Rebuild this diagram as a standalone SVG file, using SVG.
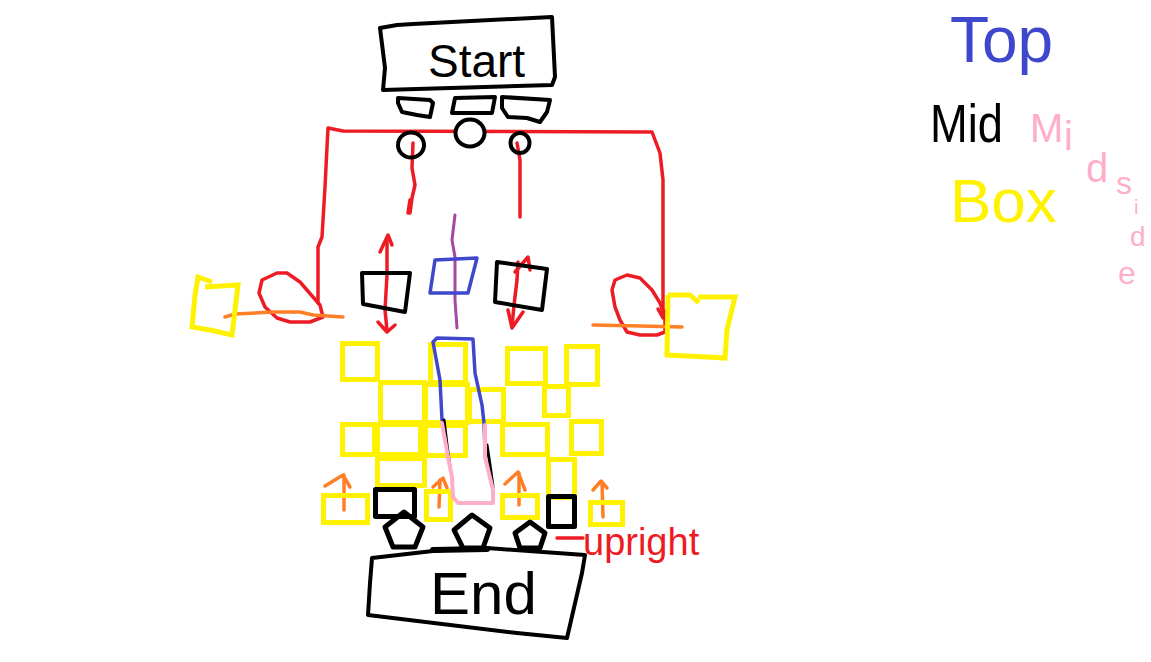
<svg xmlns="http://www.w3.org/2000/svg" width="1151" height="662" viewBox="0 0 1151 662">
<style>
.k{fill:none;stroke:#000;stroke-width:4;stroke-linecap:round;stroke-linejoin:round}
.y{fill:none;stroke:#fff200;stroke-width:5;stroke-linejoin:miter}
.r{fill:none;stroke:#ed1c24;stroke-width:3.5;stroke-linecap:round;stroke-linejoin:round}
.o{fill:none;stroke:#ff7f27;stroke-width:3.5;stroke-linecap:round;stroke-linejoin:round}
.b{fill:none;stroke:#3f48cc;stroke-width:3.5;stroke-linecap:round;stroke-linejoin:round}
.p{fill:none;stroke:#ffaec9;stroke-width:4;stroke-linecap:round;stroke-linejoin:round}
.u{fill:none;stroke:#a349a4;stroke-width:3;stroke-linecap:round;stroke-linejoin:round}
.t{font-family:"Liberation Sans",Arial,sans-serif}
</style>
<rect width="1151" height="662" fill="#fff"/>

<g id="connectors">
  <path class="r" d="M318,303 L318,247 L322,237 L325,187 L327,147 L328,128 L343,131 L652,132 L660,153 L663,180 L663,316"/>
  <path class="r" d="M658,309 L663,318 L666,311"/>
  <path class="r" d="M320,305 L323,317 L310,322 L290,322 L277,318 L265,307 L259,293 L262,280 L277,273 L287,273 L300,282 L313,297 L320,305"/>
  <path class="r" d="M665,318 L665,332 L657,335 L640,335 L627,332 L620,320 L615,307 L612,290 L615,280 L627,275 L640,278 L652,290 L660,303 L665,318"/>
  <path class="o" d="M225,317 L235,314 L273,312 L300,312 L313,315 L343,317"/>
  <path class="o" d="M593,325 L640,326 L682,327"/>
  <path class="r" d="M413,143 L412,168 L415,185 L412,198 L410,213"/>
  <path class="r" d="M517,143 L520,160 L520,217"/>
  <path class="r" d="M410,200 L408,213"/>
  <path class="u" d="M455,215 L452,240 L455,257 L455,300 L457,328"/>
  <path class="r" d="M387,240 L387,275 L385,310 L387,330"/>
  <path class="r" d="M380,252 L388,235 L392,245"/>
  <path class="r" d="M378,322 L387,332 L395,325"/>
  <path class="r" d="M518,262 L517,280 L514,305 L512,327"/>
  <path class="r" d="M515,272 L528,257 L530,270"/>
  <path class="r" d="M508,310 L512,328 L523,312"/>
  <path class="o" d="M344,510 L344,475"/>
  <path class="o" d="M325,486 L343,475 L350,487"/>
  <path class="o" d="M439,507 L440,480"/>
  <path class="o" d="M433,487 L443,478 L447,488"/>
  <path class="o" d="M519,505 L519,473"/>
  <path class="o" d="M505,484 L518,472 L525,490"/>
  <path class="o" d="M603,517 L602,482"/>
  <path class="o" d="M593,490 L601,481 L607,488"/>
  <path class="r" d="M557,538 L583,538"/>
</g>

<g id="start">
  <path class="k" d="M380,28 L397,25 L413,24 L552,17 L555,77 L552,85 L383,90 L385,68 L380,28 Z"/>
  <text class="t" x="428" y="77" font-size="46" fill="#000">Start</text>
</g>

<g id="tabs">
  <path class="k" d="M398,98 L430,100 L433,103 L430,117 L417,115 L402,112 L398,103 Z"/>
  <path class="k" d="M455,98 L495,97 L492,113 L452,113 Z"/>
  <path class="k" d="M502,97 L550,100 L547,112 L540,122 L527,118 L508,117 L502,108 Z"/>
</g>

<g id="ports">
  <ellipse class="k" cx="411" cy="145" rx="13" ry="12.5"/>
  <ellipse class="k" cx="470" cy="133" rx="14.5" ry="13.5" style="fill:#fff"/>
  <ellipse class="k" cx="520" cy="143" rx="9.5" ry="10"/>
</g>

<g id="mid-boxes">
  <path class="k" d="M362,273 L410,273 L405,312 L363,304 Z"/>
  <path class="b" d="M435,260 L477,258 L468,293 L430,293 Z"/>
  <path class="k" d="M497,262 L547,269 L542,310 L495,302 Z"/>
</g>

<g id="side-boxes">
  <path class="y" d="M212,282 L198,277 L195,295 L192,327 L210,330 L232,335 L235,310 L238,285 L205,287"/>
  <path class="y" d="M668,295 L690,295 L699,303 M698,297 L735,297 L727,330 L725,358 L707,357 L667,355 L668,295"/>
</g>

<g id="box-grid">
  <rect class="y" x="342.5" y="343.5" width="35" height="36"/>
  <rect class="y" x="430.5" y="344.5" width="35" height="38"/>
  <rect class="y" x="507.5" y="348.5" width="38" height="35"/>
  <rect class="y" x="566.5" y="346.5" width="31" height="38"/>
  <rect class="y" x="380.5" y="382.5" width="44" height="40"/>
  <rect class="y" x="425.5" y="384.5" width="42" height="38"/>
  <rect class="y" x="469.5" y="389.5" width="34" height="32"/>
  <rect class="y" x="544.5" y="386.5" width="24" height="29"/>
  <rect class="y" x="342.5" y="424.5" width="32" height="30"/>
  <rect class="y" x="377.5" y="424.5" width="43" height="30"/>
  <rect class="y" x="425.5" y="425.5" width="40" height="30"/>
  <rect class="y" x="502.5" y="424.5" width="45" height="30"/>
  <rect class="y" x="571.5" y="421.5" width="30" height="32"/>
  <rect class="y" x="377.5" y="458.5" width="47" height="27"/>
  <rect class="y" x="548.5" y="459.5" width="26" height="38"/>
  <rect class="y" x="323.5" y="495.5" width="44" height="27"/>
  <rect class="y" x="426.5" y="491.5" width="24" height="28"/>
  <rect class="y" x="502.5" y="495.5" width="35" height="22"/>
  <rect class="y" x="590.5" y="502.5" width="32" height="22"/>
  <rect class="k" x="375.5" y="489.5" width="39" height="27" style="stroke-width:5"/>
  <rect class="k" x="548.5" y="496.5" width="26" height="30" style="stroke-width:5"/>
</g>

<g id="tube">
  <path class="b" d="M442,420 L440,380 L433,342 L437,338 L473,339 L475,373 L482,405 L484,423 L485,450"/>
  <path class="k" d="M444,420 L447,445 L450,467" style="stroke-width:3"/>
  <path class="k" d="M487,445 L490,465 L493,487" style="stroke-width:3"/>
  <path class="p" d="M442,423 L448,457 L452,477 L453,497 L458,503 L493,503 L493,490 L485,457 L485,425"/>
</g>

<g id="pentagons">
  <path class="k" d="M404,512 L423,527 L415,547 L393,547 L385,527 Z" style="stroke-width:5"/>
  <path class="k" d="M472,515 L490,528 L483,548 L463,548 L454,530 Z" style="stroke-width:5"/>
  <path class="k" d="M530,522 L545,533 L540,548 L520,548 L515,533 Z" style="stroke-width:5"/>
</g>

<g id="end">
  <path class="k" d="M372,558 L433,551 L468,548 L487,548 L585,555 L582,573 L567,638 L517,633 L368,615 L370,583 L372,558 Z"/>
  <path class="k" d="M433,550 L487,549" style="stroke-width:6"/>
  <text class="t" x="430" y="614" font-size="60" fill="#000">End</text>
</g>

<g id="labels">
  <text class="t" x="583" y="555" font-size="38" fill="#ed1c24">upright</text>
</g>

<g id="legend">
  <text class="t" x="950" y="62" font-size="64" fill="#3f48cc">Top</text>
  <text class="t" x="930" y="142" font-size="54" fill="#000" textLength="73" lengthAdjust="spacingAndGlyphs">Mid</text>
  <text class="t" font-size="40" fill="#ffaec9"><tspan x="1030" y="142">M</tspan><tspan x="1064" y="150">i</tspan><tspan x="1086" y="182">d</tspan><tspan x="1116" y="194" font-size="32">s</tspan><tspan x="1134" y="214" font-size="20">i</tspan><tspan x="1130" y="246" font-size="28">d</tspan><tspan x="1118" y="284" font-size="32">e</tspan></text>
  <text class="t" x="950" y="222" font-size="62" fill="#fff200">Box</text>
</g>
</svg>
